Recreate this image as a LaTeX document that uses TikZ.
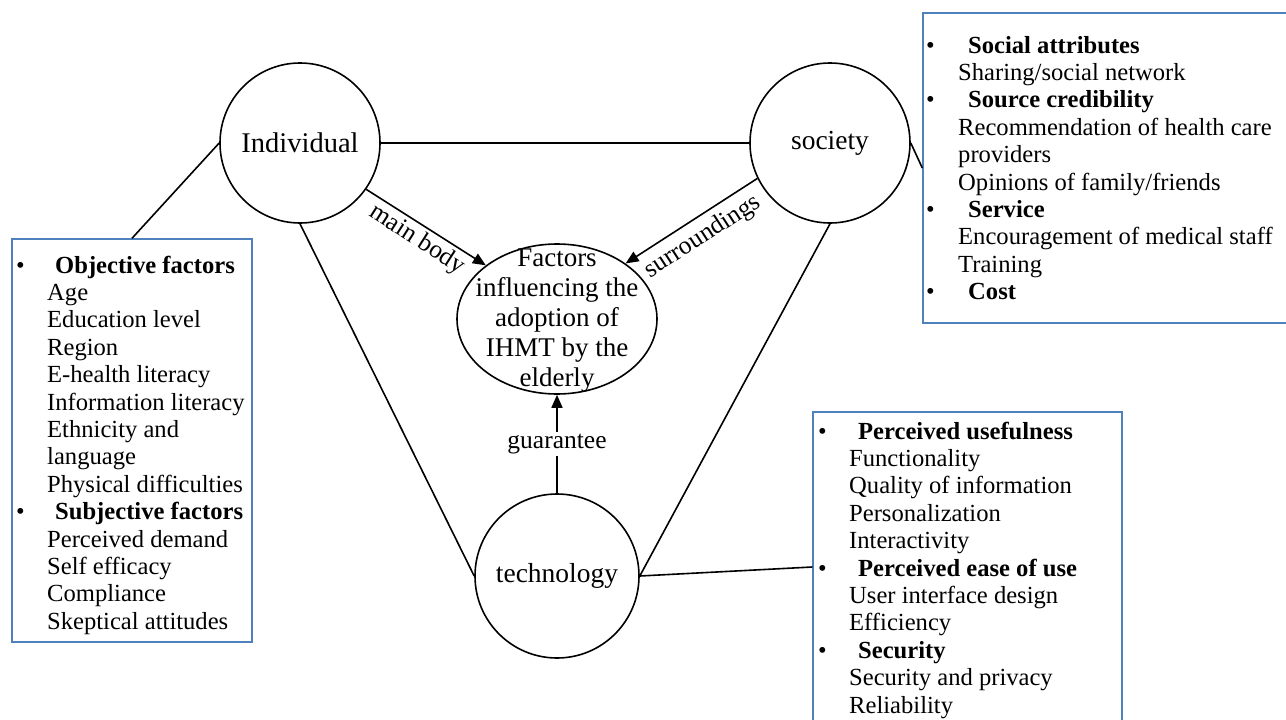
\documentclass[tikz,border=0pt]{standalone}
\usepackage{fontspec}
\setmainfont{Liberation Serif}
\usetikzlibrary{arrows.meta,shapes.geometric}
\definecolor{boxblue}{RGB}{79,129,189}
\tikzset{
  circ/.style={draw, circle, line width=1.6pt, inner sep=0pt, minimum size=160pt, font=\fontsize{27.5}{30}\selectfont},
  conn/.style={line width=1.6pt},
  arr/.style={conn, -{Triangle[length=13pt,width=11pt]}},
  infobox/.style={draw=boxblue, line width=1.4pt, rectangle, inner sep=0pt},
  boxtext/.style={anchor=north west, inner sep=0pt, align=left, font=\fontsize{24.6}{27.4}\selectfont},
  lbl/.style={font=\fontsize{25.5}{28}\selectfont, inner sep=1pt},
}
\begin{document}
\begin{tikzpicture}[x=1pt,y=-1pt]
\fill[white] (0,0) rectangle (1286,720);
\useasboundingbox (0,0) rectangle (1286,720);
\clip (0,0) rectangle (1286,720);

% circles
\node[circ, font=\fontsize{28.5}{30}\selectfont] (ind) at (300,143) {Individual};
\node[circ] (soc) at (830,143) {society};
\node[circ, minimum size=164pt] (tech) at (557,576) {technology};

% central ellipse
\node[draw, ellipse, line width=1.6pt, minimum width=200pt, minimum height=150pt, inner sep=0pt] (fac) at (557,319) {};
\node[align=center, inner sep=0pt, font=\fontsize{27}{30}\selectfont] (factxt) at (557,321) {Factors\\influencing the\\adoption of\\IHMT by the\\elderly};

% boxes
\node[infobox, minimum width=240pt, minimum height=403pt] (lbox) at (132,440.5) {};
\node[infobox, minimum width=380pt, minimum height=310pt] (rbox) at (1113,168) {};
\node[infobox, minimum width=309pt, minimum height=310pt] (bbox) at (967.5,567) {};

\node[boxtext] (ltext) at (16,253.8) {\strut\makebox[39pt][l]{\textbullet}\textbf{Objective factors}\\
\hspace*{31pt}Age\\
\hspace*{31pt}Education level\\
\hspace*{31pt}Region\\
\hspace*{31pt}E-health literacy\\
\hspace*{31pt}Information literacy\\
\hspace*{31pt}Ethnicity and\\
\hspace*{31pt}language\\
\hspace*{31pt}Physical difficulties\\
\makebox[39pt][l]{\textbullet}\textbf{Subjective factors}\\
\hspace*{31pt}Perceived demand\\
\hspace*{31pt}Self efficacy\\
\hspace*{31pt}Compliance\\
\hspace*{31pt}Skeptical attitudes};

\node[boxtext] (rtext) at (926,33.8) {\strut\makebox[42pt][l]{\textbullet}\textbf{Social attributes}\\
\hspace*{32pt}Sharing/social network\\
\makebox[42pt][l]{\textbullet}\textbf{Source credibility}\\
\hspace*{32pt}Recommendation of health care\\
\hspace*{32pt}providers\\
\hspace*{32pt}Opinions of family/friends\\
\makebox[42pt][l]{\textbullet}\textbf{Service}\\
\hspace*{32pt}Encouragement of medical staff\\
\hspace*{32pt}Training\\
\makebox[42pt][l]{\textbullet}\textbf{Cost}};

\node[boxtext] (btext) at (818,419.8) {\strut\makebox[40pt][l]{\textbullet}\textbf{Perceived usefulness}\\
\hspace*{31pt}Functionality\\
\hspace*{31pt}Quality of information\\
\hspace*{31pt}Personalization\\
\hspace*{31pt}Interactivity\\
\makebox[40pt][l]{\textbullet}\textbf{Perceived ease of use}\\
\hspace*{31pt}User interface design\\
\hspace*{31pt}Efficiency\\
\makebox[40pt][l]{\textbullet}\textbf{Security}\\
\hspace*{31pt}Security and privacy\\
\hspace*{31pt}Reliability};

% triangle edges
\draw[conn] (ind.east) -- (soc.west);
\draw[conn] (ind.south) -- (tech.west);
\draw[conn] (soc.south) -- (tech.east);

% box connectors
\draw[conn] (ind.west) -- (lbox.north);
\draw[conn] (soc.east) -- (rbox.west);
\draw[conn] (tech.east) -- (bbox.west);

% arrows
\draw[arr] (ind.-35) -- (fac.143);
\draw[arr] (soc.206) -- (fac.39);
\draw[arr] (tech.north) -- (fac.south) node[lbl, fill=white, pos=0.5, inner sep=2pt] (lgua) {guarantee};

% arrow labels
\node[lbl, rotate=-32.6] (lmain) at (417,240) {main body};
\node[lbl, rotate=32.9] (lsur) at (703,237) {surroundings};
\end{tikzpicture}
\end{document}
